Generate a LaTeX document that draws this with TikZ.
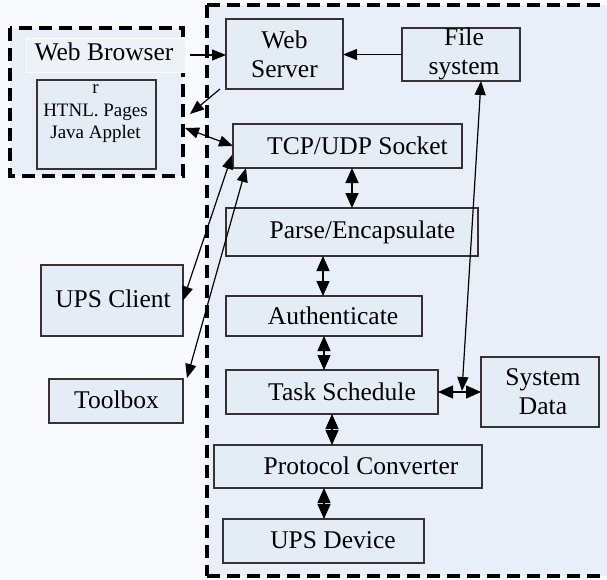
\documentclass[tikz,border=0pt]{standalone}
\usepackage{fontspec}
\setmainfont{Liberation Serif}
\usetikzlibrary{arrows.meta,calc}
\definecolor{outerbg}{HTML}{F8FAFD}
\definecolor{innerbg}{HTML}{E8EFF8}
\definecolor{boxfill}{HTML}{E4ECF6}
\definecolor{boxline}{HTML}{3A3232}
\begin{document}
\begin{tikzpicture}[x=1pt,y=-1pt,
  box/.style={draw=boxline,line width=1.4pt,fill=boxfill,inner sep=0pt,outer sep=0pt},
  txt/.style={font=\fontsize{25.5}{29}\selectfont,align=center,inner sep=0pt},
  smalltxt/.style={font=\fontsize{19}{22.5}\selectfont,align=center,inner sep=0pt},
  bigdash/.style={line width=4.2pt,dash pattern=on 13pt off 7pt,line cap=butt},
  conn/.style={line width=1.2pt,black},
  tip/.style={-{Triangle[length=15pt,width=13pt]}},
  dtip/.style={{Triangle[length=15pt,width=13pt]}-{Triangle[length=15pt,width=13pt]}},
  stip/.style={-{Triangle[length=14pt,width=11pt]}},
  dstip/.style={{Triangle[length=14pt,width=11pt]}-{Triangle[length=14pt,width=11pt]}}]
\useasboundingbox (0,0) rectangle (607,579);
\fill[outerbg] (0,0) rectangle (607,579);
% big dashed region
\fill[innerbg] (207,5) rectangle (620,576);
\draw[bigdash] (207,5) -- (620,5);
\draw[bigdash] (207,576) -- (620,576);
\draw[bigdash] (207,5) -- (207,576);
% left dashed region
\fill[innerbg] (10,28) rectangle (183,176);
\draw[bigdash] (10,28) rectangle (183,176);
\node[fill=innerbg!80!white,draw=white,line width=0.8pt,minimum width=159pt,minimum height=34pt,inner sep=0pt] (wb) at (105.5,55) {};
\node[txt] at (104,52) {Web Browser};
\node[box,minimum width=119pt,minimum height=89pt] (hp) at (96.5,124.5) {};
\node[smalltxt] at (95.5,114) {r\\HTNL. Pages\\Java Applet};
\coordinate (lbtip) at (190,114);
\coordinate (lbdbl) at (185,128);
% boxes
\node[box,minimum width=117pt,minimum height=70pt] (ws) at (284.5,54) {};
\node[txt] at (284.5,54) {Web\\Server};
\node[box,minimum width=118pt,minimum height=53pt] (fs) at (461,54.5) {};
\node[txt] at (464,54) {File\\system};
\node[box,minimum width=229pt,minimum height=44pt] (tcp) at (347.5,146) {};
\node[txt] at (357.5,146) {TCP/UDP Socket};
\node[box,minimum width=252pt,minimum height=48pt] (pe) at (352,232) {};
\node[txt] at (362.5,232) {Parse/Encapsulate};
\node[box,minimum width=196pt,minimum height=40pt] (au) at (324,316) {};
\node[txt] at (333,316) {Authenticate};
\node[box,minimum width=212pt,minimum height=44pt] (ts) at (332,392) {};
\node[txt] at (342,392) {Task Schedule};
\node[box,minimum width=118pt,minimum height=70pt] (sd) at (540,392) {};
\node[txt] at (543,392) {System\\Data};
\node[box,minimum width=268pt,minimum height=43pt] (pc) at (348,466.5) {};
\node[txt] at (361,466) {Protocol Converter};
\node[box,minimum width=201pt,minimum height=44pt] (ud) at (323.5,541) {};
\node[txt] at (333,540) {UPS Device};
\node[box,minimum width=142pt,minimum height=71pt] (uc) at (112,300.5) {};
\node[txt] at (113,299) {UPS Client};
\node[box,minimum width=134pt,minimum height=44pt] (tb) at (116,401) {};
\node[txt] at (116.5,400) {Toolbox};
\coordinate (jn) at (462,391);
% connectors
\draw[conn,stip] ([xshift=5pt]wb.east) -- (wb.east -| ws.west);
\draw[conn,stip] (fs.west) -- (fs.west -| ws.east);
\draw[conn,stip] ($(ws.south west)+(-6,0)$) -- (lbtip);
\draw[conn,dstip] (lbdbl) -- ($(tcp.west)+(0,0)$);
\draw[conn,dstip] (uc.east) -- ($(tcp.west)+(-1,9)$);
\draw[conn,dstip] ($(tb.north east)+(4,-1)$) -- ($(tcp.south west)+(13,0)$);
\draw[conn,dstip] ($(fs.south)+(20,0)$) -- (jn);
\draw[conn,dtip] (ts.east) -- (sd.west);
\draw[conn,dtip] (352,0 |- tcp.south) -- (352,0 |- pe.north);
\draw[conn,dtip] (323,0 |- pe.south) -- (323,0 |- au.north);
\draw[conn,dtip] (324,0 |- au.south) -- (324,0 |- ts.north);
\draw[conn,dtip] (332,0 |- ts.south) -- (332,0 |- pc.north);
\draw[conn,dtip] (324,0 |- pc.south) -- (324,0 |- ud.north);
\end{tikzpicture}
\end{document}
